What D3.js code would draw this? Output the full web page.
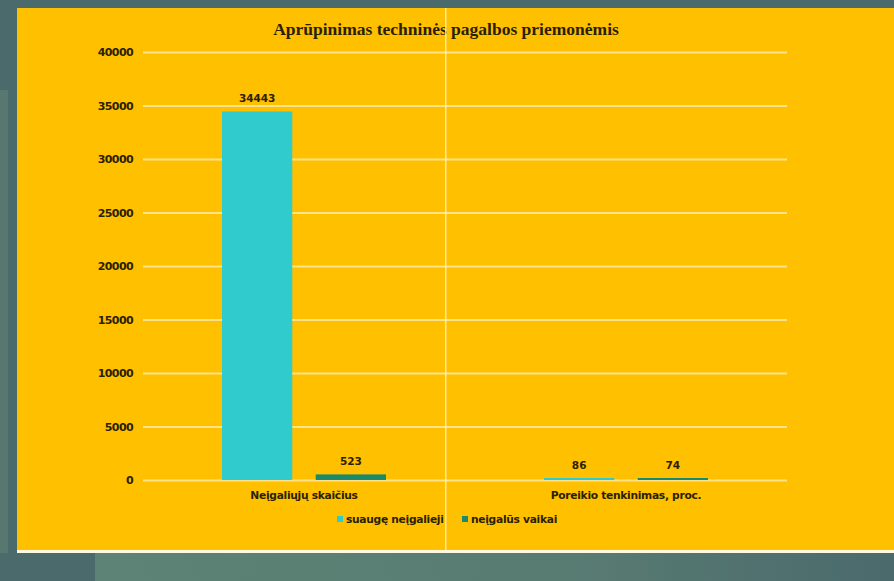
<!DOCTYPE html>
<html><head><meta charset="utf-8">
<script src="https://cdn.jsdelivr.net/npm/d3@7"></script>
<style>html,body{margin:0;padding:0;background:#4b6a6b;}svg{display:block;}</style>
</head><body>
<svg id="c" width="894" height="581"></svg>
<script>
const title = "Aprūpinimas techninės pagalbos priemonėmis";
const categories = ["Neįgaliųjų skaičius", "Poreikio tenkinimas, proc."];
const seriesNames = ["suaugę neįgalieji", "neįgalūs vaikai"];
const adults = [34443, 86];
const children = [523, 74];
const yTicks = [0, 5000, 10000, 15000, 20000, 25000, 30000, 35000, 40000];
const colors = ["#2fcbcd", "#1b8a6c"];

const svg = d3.select("#c");
const defs = svg.append("defs");
const g1 = defs.append("linearGradient").attr("id","bg").attr("x1","0").attr("x2","1");
g1.append("stop").attr("offset","0").attr("stop-color","#5c8375");
g1.append("stop").attr("offset","0.6").attr("stop-color","#587b72");
g1.append("stop").attr("offset","1").attr("stop-color","#4a6a6c");
svg.append("rect").attr("width",894).attr("height",581).attr("fill","#4b6a6b");
svg.append("rect").attr("x",95).attr("y",553).attr("width",799).attr("height",28).attr("fill","url(#bg)");
svg.append("rect").attr("x",0).attr("y",90).attr("width",8).attr("height",463).attr("fill","#58776f");
// panel
svg.append("rect").attr("x",17).attr("y",8).attr("width",877).attr("height",543).attr("fill","#ffc000");
svg.append("rect").attr("x",17).attr("y",550).attr("width",877).attr("height",3).attr("fill","#fff8e0");

const margin = {left:143, right:787, top:52, bottom:480};
const y = d3.scaleLinear().domain([0,40000]).range([margin.bottom, margin.top]);
const x0 = d3.scaleBand().domain(categories).range([margin.left, margin.right]).paddingInner(0).paddingOuter(0);
const x1 = d3.scaleBand().domain(seriesNames).range([79, x0.bandwidth()-79]).paddingInner(0.25).paddingOuter(0);

const textCol = "#2a1f00";
const gy = svg.append("g").attr("transform",`translate(${margin.left},0)`)
  .call(d3.axisLeft(y).tickValues(yTicks).tickSize(-(margin.right-margin.left)).tickFormat(d=>d).tickPadding(10));
gy.select(".domain").remove();
gy.selectAll(".tick line").attr("stroke","#ffe38a").attr("stroke-width",2);
gy.selectAll(".tick text").attr("fill",textCol).attr("font-family","DejaVu Sans, sans-serif")
  .attr("font-weight","bold").attr("font-size",11).attr("letter-spacing","-0.6");

// bars
const data = categories.map((c,i)=>({cat:c, vals:[adults[i], children[i]]}));
const groups = svg.append("g").selectAll("g").data(data).join("g")
  .attr("transform", d=>`translate(${x0(d.cat)},0)`);
groups.selectAll("rect").data(d=>d.vals.map((v,j)=>({v, s:seriesNames[j], j})))
  .join("rect")
  .attr("x", d=>x1(d.s)).attr("width", x1.bandwidth())
  .attr("y", d=>Math.min(y(d.v), margin.bottom-2)).attr("height", d=>Math.max(margin.bottom-y(d.v),2))
  .attr("fill", d=>colors[d.j]);
groups.selectAll("text").data(d=>d.vals.map((v,j)=>({v, s:seriesNames[j], j})))
  .join("text")
  .attr("x", d=>x1(d.s)+x1.bandwidth()/2)
  .attr("y", d=>Math.min(y(d.v), margin.bottom-2)-9)
  .attr("text-anchor","middle").attr("font-family","DejaVu Sans, sans-serif").attr("font-size",10.5)
  .attr("font-weight","bold").attr("fill",textCol).text(d=>d.v);

// category labels
svg.append("g").selectAll("text").data(categories).join("text")
  .attr("x", d=>x0(d)+x0.bandwidth()/2).attr("y", 499)
  .attr("text-anchor","middle").attr("font-family","DejaVu Sans, sans-serif").attr("font-size",10.7)
  .attr("font-weight","bold").attr("fill",textCol).attr("letter-spacing","-0.3").text(d=>d);

// title
svg.append("text").attr("x",446).attr("y",35).attr("text-anchor","middle")
  .attr("font-family","Liberation Serif, serif").attr("font-weight","bold").attr("font-size",17.5)
  .attr("fill",textCol).text(title);

// legend
const legX = [337, 462];
const leg = svg.append("g").selectAll("g").data(seriesNames).join("g")
  .attr("transform",(d,i)=>`translate(${legX[i]},519)`);
leg.append("rect").attr("x",0).attr("y",-3).attr("width",6).attr("height",6).attr("fill",(d,i)=>colors[i]);
leg.append("text").attr("x",9).attr("y",4).attr("font-family","DejaVu Sans, sans-serif").attr("font-size",10.7)
  .attr("font-weight","bold").attr("fill",textCol).attr("letter-spacing","-0.3").text(d=>d);

svg.append("rect").attr("x",445).attr("y",8).attr("width",1.5).attr("height",543).attr("fill","#fff3c8").attr("opacity",0.8);
</script>
</body></html>
